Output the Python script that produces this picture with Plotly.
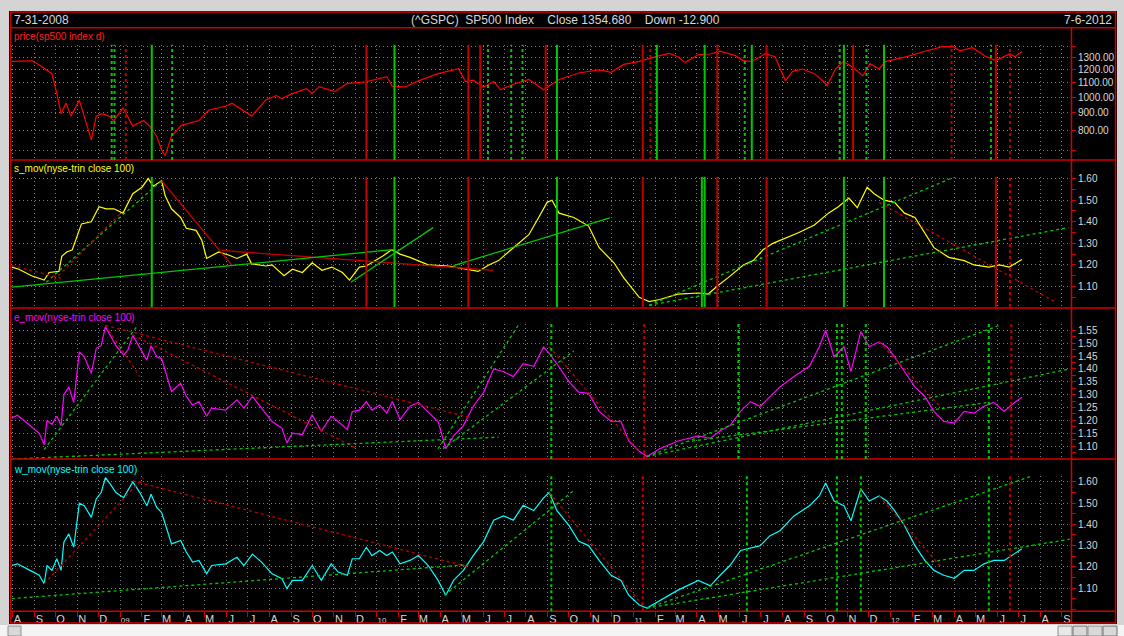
import plotly.graph_objects as go
import pandas as pd

# ---------------- data ----------------
price_dates = ["2008-07-31","2008-08-29","2008-09-12","2008-09-26","2008-10-03","2008-10-09","2008-10-16","2008-10-23",
    "2008-11-04","2008-11-14","2008-11-21","2008-11-28","2008-12-06","2008-12-16","2008-12-23","2009-01-05","2009-01-19",
    "2009-02-03","2009-02-12","2009-02-22","2009-03-01","2009-03-06","2009-03-15","2009-03-29","2009-04-23","2009-05-07",
    "2009-05-31","2009-06-09","2009-07-07","2009-07-27","2009-08-11","2009-08-19","2009-09-03","2009-09-23","2009-10-01",
    "2009-10-11","2009-11-02","2009-11-19","2009-12-17","2010-01-15","2010-01-23","2010-02-10","2010-03-01","2010-03-29",
    "2010-04-27","2010-05-07","2010-05-18","2010-06-02","2010-06-16","2010-06-26","2010-07-14","2010-08-05","2010-08-26",
    "2010-09-17","2010-10-15","2010-11-13","2010-11-30","2010-12-18","2011-01-09","2011-02-07","2011-02-21","2011-03-05",
    "2011-03-15","2011-04-03","2011-04-20","2011-05-04","2011-05-26","2011-06-05","2011-06-18","2011-07-07","2011-07-21",
    "2011-08-05","2011-08-15","2011-08-29","2011-09-15","2011-09-27","2011-10-03","2011-10-15","2011-10-26","2011-11-05",
    "2011-11-23","2011-12-03","2011-12-16","2011-12-25","2012-01-24","2012-02-17","2012-03-15","2012-03-30","2012-04-09",
    "2012-04-27","2012-05-16","2012-05-30","2012-06-10","2012-06-19","2012-06-26","2012-07-06"]
price_vals = [1270,1275,1226,1170,1024,894,961,880,
    980,840,750,880,894,880,854,930,823,
    854,823,768,701,675,768,827,854,917,
    940,960,880,980,1010,990,1023,1058,1023,
    1072,1037,1094,1108,1147,1075,1070,1115,1170,
    1210,1110,1120,1070,1110,1050,1090,1125,1050,
    1125,1175,1200,1180,1245,1270,1320,1340,1310,
    1260,1330,1335,1360,1320,1277,1268,1338,1311,
    1114,1188,1207,1170,1114,1079,1207,1268,1235,
    1154,1251,1207,1268,1311,1355,1402,1402,1364,
    1392,1311,1277,1311,1338,1311,1354.68]

s_dates = ["2008-07-31","2008-08-10","2008-08-28","2008-09-15","2008-09-22","2008-10-06","2008-10-10","2008-10-17",
    "2008-10-25","2008-10-31","2008-11-07","2008-11-21","2008-12-02","2008-12-12","2008-12-23","2009-01-05","2009-01-19",
    "2009-02-01","2009-02-10","2009-02-17","2009-02-24","2009-03-01","2009-03-06","2009-03-15","2009-03-28","2009-04-05",
    "2009-04-19","2009-04-27","2009-05-04","2009-05-21","2009-06-05","2009-06-16","2009-06-30","2009-07-07","2009-07-27",
    "2009-08-05","2009-08-22","2009-09-03","2009-09-17","2009-10-01","2009-10-15","2009-10-29","2009-11-13","2009-11-23",
    "2009-12-07","2009-12-17","2010-01-01","2010-01-09","2010-01-22","2010-02-03","2010-02-17","2010-03-15","2010-04-13",
    "2010-05-11","2010-05-25","2010-06-09","2010-06-23","2010-07-07","2010-07-21","2010-08-05","2010-08-19","2010-08-31",
    "2010-09-07","2010-09-17","2010-10-08","2010-10-29","2010-11-13","2010-12-04","2010-12-18","2011-01-09","2011-01-23",
    "2011-02-07","2011-03-05","2011-04-03","2011-04-17","2011-05-01","2011-05-15","2011-06-06","2011-06-20","2011-07-04",
    "2011-07-18","2011-08-02","2011-08-24","2011-09-15","2011-10-05","2011-10-19","2011-11-03","2011-11-15","2011-11-29",
    "2011-12-09","2011-12-23","2012-01-07","2012-01-21","2012-02-05","2012-02-19","2012-03-03","2012-03-24","2012-04-15",
    "2012-04-29","2012-05-20","2012-06-04","2012-06-18","2012-07-06"]
s_vals = [1.19,1.18,1.15,1.13,1.165,1.17,1.24,1.26,
    1.27,1.33,1.39,1.40,1.47,1.46,1.46,1.44,1.53,
    1.56,1.60,1.565,1.58,1.59,1.52,1.46,1.42,1.37,
    1.36,1.315,1.23,1.26,1.245,1.23,1.25,1.205,1.195,
    1.20,1.15,1.18,1.165,1.21,1.175,1.19,1.165,1.13,
    1.19,1.195,1.225,1.24,1.27,1.25,1.235,1.20,1.195,
    1.18,1.17,1.20,1.22,1.26,1.30,1.34,1.42,1.49,
    1.50,1.44,1.42,1.38,1.28,1.21,1.14,1.05,1.03,
    1.04,1.065,1.07,1.065,1.105,1.14,1.20,1.22,1.27,
    1.30,1.32,1.35,1.385,1.44,1.47,1.51,1.465,1.56,
    1.53,1.50,1.49,1.44,1.42,1.35,1.28,1.235,1.22,
    1.20,1.19,1.20,1.19,1.225]

ew_dates = ["2008-07-31","2008-08-08","2008-08-26","2008-09-08","2008-09-15","2008-09-19","2008-09-26","2008-10-03",
    "2008-10-09","2008-10-13","2008-10-20","2008-10-27","2008-11-04","2008-11-11","2008-11-21","2008-11-28","2008-12-05",
    "2008-12-11","2008-12-18","2008-12-26","2009-01-06","2009-01-12","2009-01-19","2009-01-29","2009-02-08","2009-02-14",
    "2009-02-22","2009-03-01","2009-03-15","2009-03-28","2009-04-05","2009-04-14","2009-04-23","2009-05-04","2009-05-11",
    "2009-05-31","2009-06-16","2009-06-26","2009-07-08","2009-07-21","2009-08-05","2009-08-19","2009-08-26","2009-09-03",
    "2009-09-17","2009-10-01","2009-10-14","2009-10-28","2009-11-07","2009-11-20","2009-11-27","2009-12-07","2009-12-17",
    "2009-12-25","2010-01-05","2010-01-15","2010-01-23","2010-02-03",
    "2010-02-17","2010-03-01","2010-03-15","2010-03-29","2010-04-09","2010-04-20","2010-05-04","2010-05-18","2010-06-02",
    "2010-06-16","2010-06-30","2010-07-14","2010-07-28","2010-08-12","2010-08-26","2010-09-03","2010-09-14","2010-10-01",
    "2010-10-15","2010-10-29","2010-11-13","2010-11-30","2010-12-14","2010-12-25","2011-01-09","2011-01-20","2011-02-07",
    "2011-03-05","2011-04-03","2011-04-20","2011-05-04","2011-05-18","2011-06-02","2011-06-16","2011-06-30","2011-07-14",
    "2011-07-28","2011-08-17","2011-09-08","2011-09-22","2011-10-01","2011-10-13","2011-10-27","2011-11-06","2011-11-20",
    "2011-12-02","2011-12-16","2011-12-27","2012-01-07","2012-01-21","2012-02-05","2012-02-19","2012-03-03","2012-03-17",
    "2012-04-01","2012-04-15","2012-04-29","2012-05-13","2012-05-27","2012-06-11","2012-06-21","2012-07-06"]
e_vals = [1.209,1.22,1.18,1.15,1.106,1.20,1.185,1.216,
    1.18,1.30,1.33,1.27,1.466,1.447,1.383,1.48,1.49,
    1.563,1.53,1.49,1.454,1.473,1.53,1.48,1.434,1.49,
    1.447,1.44,1.312,1.344,1.293,1.26,1.273,1.216,1.248,
    1.24,1.28,1.248,1.293,1.248,1.196,1.17,1.113,1.151,
    1.145,1.222,1.158,1.216,1.196,1.164,1.235,1.24,1.273,
    1.24,1.26,1.228,1.273,1.203,
    1.255,1.27,1.235,1.196,1.09,1.14,1.18,1.255,1.31,
    1.40,1.39,1.37,1.42,1.41,1.485,1.46,1.42,1.35,
    1.31,1.305,1.235,1.196,1.196,1.12,1.08,1.06,1.09,
    1.12,1.14,1.13,1.16,1.18,1.235,1.273,1.255,1.293,
    1.33,1.37,1.41,1.486,1.55,1.447,1.486,1.39,1.545,
    1.486,1.505,1.486,1.447,1.39,1.33,1.293,1.235,1.196,
    1.19,1.235,1.228,1.255,1.27,1.235,1.26,1.29]
w_vals = [1.206,1.214,1.183,1.16,1.12,1.206,1.183,1.238,
    1.183,1.316,1.355,1.292,1.50,1.488,1.433,1.52,1.55,
    1.62,1.59,1.55,1.526,1.56,1.60,1.55,1.488,1.542,
    1.48,1.456,1.308,1.324,1.27,1.222,1.23,1.167,1.206,
    1.214,1.245,1.206,1.26,1.222,1.167,1.144,1.097,1.136,
    1.136,1.206,1.136,1.214,1.175,1.16,1.238,1.238,1.292,
    1.253,1.277,1.253,1.27,1.214,
    1.23,1.253,1.206,1.136,1.066,1.136,1.183,1.253,1.32,
    1.42,1.44,1.42,1.49,1.465,1.525,1.55,1.465,1.395,
    1.32,1.30,1.23,1.16,1.136,1.066,1.02,1.005,1.04,
    1.09,1.136,1.11,1.16,1.206,1.277,1.29,1.30,1.347,
    1.37,1.44,1.488,1.534,1.595,1.51,1.488,1.417,1.567,
    1.51,1.534,1.51,1.465,1.395,1.30,1.23,1.183,1.16,
    1.146,1.183,1.183,1.214,1.23,1.23,1.253,1.285]

# trend lines: (start date, start value, end date, end value)
s_red_solid = [("2009-03-01",1.59,"2009-06-09",1.198), ("2009-05-25",1.267,"2010-06-16",1.175)]
s_green_solid = [("2008-07-31",1.097,"2010-01-27",1.272), ("2009-11-25",1.12,"2010-03-22",1.373),
                 ("2010-04-20",1.197,"2010-11-28",1.418)]
s_green_dash = [("2008-09-18",1.12,"2009-03-01",1.59), ("2011-01-23",1.013,"2012-04-08",1.617),
                ("2011-01-23",1.013,"2012-09-10",1.373)]
s_red_dash = [("2008-07-31",1.198,"2008-10-10",1.138), ("2008-09-29",1.13,"2009-01-05",1.45),
              ("2011-12-16",1.49,"2012-08-23",1.027)]
e_red_dash = [("2008-12-11",1.569,"2010-05-11",1.213), ("2008-12-11",1.569,"2009-01-29",1.37),
              ("2009-01-19",1.532,"2009-12-02",1.093), ("2010-09-03",1.486,"2011-01-09",1.08),
              ("2011-12-16",1.505,"2012-03-13",1.25)]
e_green_dash = [("2008-09-15",1.087,"2009-01-26",1.569), ("2008-07-31",1.05,"2010-06-23",1.135),
                ("2010-03-29",1.09,"2010-07-21",1.569), ("2010-04-05",1.09,"2010-10-08",1.47),
                ("2011-01-20",1.06,"2012-06-04",1.569), ("2011-01-20",1.06,"2012-09-12",1.40),
                ("2011-03-25",1.12,"2012-05-20",1.27)]
w_red_dash = [("2008-09-15",1.12,"2009-02-03",1.62), ("2009-01-19",1.605,"2010-05-11",1.20),
              ("2010-09-03",1.55,"2011-01-16",1.01), ("2011-12-16",1.534,"2012-03-13",1.20)]
w_green_dash = [("2008-07-31",1.05,"2010-05-11",1.21), ("2010-04-07",1.066,"2010-10-08",1.56),
                ("2011-01-20",1.005,"2012-07-22",1.63), ("2011-01-20",1.005,"2012-09-12",1.33)]

# vertical signal markers (dates)
p_green_solid = ["2009-02-15","2010-01-26","2010-09-14","2011-02-03","2011-04-12","2011-06-18","2011-10-27","2011-12-23"]
p_green_dash = ["2008-12-20","2008-12-24","2009-03-16","2010-06-08","2010-07-11","2010-07-27","2011-06-08",
                "2011-10-21","2011-11-28","2012-05-23"]
p_red_solid = ["2009-12-17","2010-05-11","2010-05-28","2010-08-29","2011-01-14","2011-04-30","2011-07-09",
               "2011-11-09","2012-05-30"]
p_red_dash = ["2009-01-09","2011-01-25","2012-03-28","2012-06-19"]
s_sig_green = ["2009-02-15","2010-01-26","2010-09-14","2011-04-08","2011-04-12","2011-10-27","2011-12-23"]
s_sig_red = ["2009-12-17","2010-05-11","2011-01-14","2011-04-30","2011-07-09","2012-05-30"]
s_sig_red_dash = ["2012-06-19"]
e_sig_green_dash = ["2010-09-06","2011-05-30","2011-10-17","2011-10-24","2011-11-27","2012-05-20"]
e_sig_red_dash = ["2011-01-16","2012-06-21"]
w_sig_green_dash = ["2010-09-06","2011-06-11","2011-10-17","2011-11-20","2012-05-20"]
w_sig_red_dash = ["2011-01-14","2012-06-19"]

month_letters = ["A","S","O","N","D","09","F","M","A","M","J","J","A","S","O","N","D","10","F","M","A","M","J","J",
                 "A","S","O","N","D","11","F","M","A","M","J","J","A","S","O","N","D","12","F","M","A","M","J","J",
                 "A","S"]
price_ticks = [700, 800, 900, 1000, 1100, 1200, 1300, 1400]
price_ticktext = ["", "800.00", "900.00", "1000.00", "1100.00", "1200.00", "1300.00", ""]

# ---------------- layout helpers ----------------
W, H = 1124, 636
def fx(p): return p / W
def fy(p): return 1 - p / H

RED = "#d00000"
DRED = "#c00000"
GRN = "#00c800"
GRID = "#7a7a7a"
TXT = "#d8d8d8"
FONT = "Liberation Sans, Arial, sans-serif"

month_starts = pd.date_range("2008-08-01", "2012-09-01", freq="MS")
ticktext = [("<span style='font-size:8px'>%s</span>" % t) if t.isdigit() else t for t in month_letters]

fig = go.Figure()

def add_line(x, y, color, width, ax, dash="solid"):
    fig.add_trace(go.Scatter(x=x, y=y, mode="lines", line=dict(color=color, width=width, dash=dash),
                             xaxis=ax[0], yaxis=ax[1], hoverinfo="skip", showlegend=False))

def add_trend(segs, color, dash, ax, width=1.3):
    xs, ys = [], []
    for a, va, b, vb in segs:
        xs += [a, b, None]
        ys += [va, vb, None]
    add_line(xs, ys, color, width, ax, dash)

A1, A2, A3, A4 = ("x2", "y"), ("x3", "y2"), ("x4", "y3"), ("x", "y4")

add_line(price_dates, price_vals, "#ff0000", 1.2, A1)
add_line(s_dates, s_vals, "#ffff00", 1.2, A2)
add_line(ew_dates, e_vals, "#ff00ff", 1.2, A3)
add_line(ew_dates, w_vals, "#00ffff", 1.2, A4)

DOT = "3px,3px"
add_trend(s_red_solid, DRED, "solid", A2)
add_trend(s_green_solid, GRN, "solid", A2)
add_trend(s_green_dash, GRN, DOT, A2)
add_trend(s_red_dash, DRED, DOT, A2)
add_trend(e_red_dash, DRED, DOT, A3)
add_trend(e_green_dash, GRN, DOT, A3)
add_trend(w_red_dash, DRED, DOT, A4)
add_trend(w_green_dash, GRN, DOT, A4)

shapes = []
def vlines(dates, color, dash, yname, width):
    for d in dates:
        shapes.append(dict(type="line", xref="x", yref=yname + " domain", x0=d, x1=d, y0=0, y1=1,
                           line=dict(color=color, width=width, dash=dash), layer="above"))

vlines(p_green_solid, GRN, "solid", "y", 2)
vlines(p_green_dash, GRN, DOT, "y", 2)
vlines(p_red_solid, DRED, "solid", "y", 2)
vlines(p_red_dash, DRED, DOT, "y", 2)
vlines(s_sig_green, GRN, "solid", "y2", 2)
vlines(s_sig_red, DRED, "solid", "y2", 2)
vlines(s_sig_red_dash, DRED, DOT, "y2", 2)
vlines(e_sig_green_dash, GRN, DOT, "y3", 2)
vlines(e_sig_red_dash, DRED, DOT, "y3", 2)
vlines(w_sig_green_dash, GRN, DOT, "y4", 2)
vlines(w_sig_red_dash, DRED, DOT, "y4", 2)

# frame: window gray, black chart body, red rules
bg = [
    dict(type="rect", xref="paper", yref="paper", x0=fx(9), x1=fx(1117), y0=fy(624), y1=fy(7),
         fillcolor="#000000", line=dict(width=0), layer="below"),
    dict(type="rect", xref="paper", yref="paper", x0=0, x1=1, y0=0, y1=fy(625),
         fillcolor="#f4f4f4", line=dict(width=0), layer="below"),
    dict(type="rect", xref="paper", yref="paper", x0=fx(8), x1=fx(21), y0=0, y1=fy(626),
         fillcolor="#d8d8d8", line=dict(color="#909090", width=1), layer="below"),
    dict(type="rect", xref="paper", yref="paper", x0=fx(1058), x1=fx(1072), y0=0, y1=fy(626),
         fillcolor="#e8e8e8", line=dict(color="#909090", width=1), layer="below"),
    dict(type="rect", xref="paper", yref="paper", x0=fx(1073), x1=fx(1087), y0=0, y1=fy(626),
         fillcolor="#d8d8d8", line=dict(color="#707070", width=1), layer="below"),
    dict(type="rect", xref="paper", yref="paper", x0=fx(1088), x1=fx(1102), y0=0, y1=fy(626),
         fillcolor="#d8d8d8", line=dict(color="#909090", width=1), layer="below"),
    dict(type="rect", xref="paper", yref="paper", x0=fx(1103), x1=fx(1117), y0=0, y1=fy(626),
         fillcolor="#d8d8d8", line=dict(color="#707070", width=1), layer="below"),
]
for yy in [8, 24, 157, 306, 458, 611, 623]:
    bg.append(dict(type="line", xref="paper", yref="paper", x0=fx(10), x1=fx(1116), y0=fy(yy), y1=fy(yy),
                   line=dict(color=RED, width=1.5), layer="above"))
for xx, ya, yb in [(10.5, 8, 623), (1115.5, 8, 623), (1071.5, 24, 623)]:
    bg.append(dict(type="line", xref="paper", yref="paper", x0=fx(xx), x1=fx(xx), y0=fy(ya), y1=fy(yb),
                   line=dict(color=RED, width=1.5), layer="above"))

ann = [
    dict(text="7-31-2008", x=fx(12), y=fy(16), xanchor="left", font=dict(size=12, color=TXT)),
    dict(text="(^GSPC)  SP500 Index    Close 1354.680    Down -12.900", x=fx(565), y=fy(16), xanchor="center",
         font=dict(size=12, color=TXT)),
    dict(text="7-6-2012", x=fx(1114), y=fy(16), xanchor="right", font=dict(size=12, color=TXT)),
    dict(text="price(sp500 index d)", x=fx(12), y=fy(33), xanchor="left", font=dict(size=10, color="#ff2020")),
    dict(text="s_mov(nyse-trin close 100)", x=fx(12), y=fy(166), xanchor="left", font=dict(size=10, color="#ffff00")),
    dict(text="e_mov(nyse-trin close 100)", x=fx(12), y=fy(315), xanchor="left", font=dict(size=10, color="#ff00ff")),
    dict(text="w_mov(nyse-trin close 100)", x=fx(12), y=fy(468), xanchor="left", font=dict(size=10, color="#00ffff")),
]
for a in ann:
    a.update(xref="paper", yref="paper", yanchor="middle", showarrow=False)

xr = ["2008-07-29 20:00", "2012-09-13 20:00"]
xdom = [fx(11), fx(1071)]
grid = dict(showgrid=True, gridcolor=GRID, griddash="1px,3px", gridwidth=1)
xcommon = dict(type="date", range=xr, domain=xdom, tickvals=list(month_starts), zeroline=False, **grid)

def ycommon(p_top, p_bot):
    return dict(domain=[fy(p_bot), fy(p_top)], side="right", anchor="x", ticks="outside", ticklen=4,
                tickcolor=RED, tickfont=dict(size=10, color=TXT, family=FONT), showline=False, zeroline=False,
                **grid)

fig.update_layout(
    width=W, height=H, margin=dict(l=0, r=0, t=0, b=0),
    paper_bgcolor="#d4d4d4", plot_bgcolor="rgba(0,0,0,0)",
    font=dict(family=FONT, color=TXT), showlegend=False, hovermode=False,
    shapes=bg + shapes, annotations=ann,
    xaxis=dict(anchor="y4", ticktext=ticktext, ticks="", ticklen=0, ticklabelshift=5, ticklabelstandoff=0,
               tickfont=dict(size=11, color=TXT, family=FONT),
               minor=dict(tickvals=list(month_starts), ticks="outside", ticklen=5, tickcolor=RED, showgrid=False),
               **xcommon),
    xaxis2=dict(anchor="y", matches="x", showticklabels=False, **xcommon),
    xaxis3=dict(anchor="y2", matches="x", showticklabels=False, **xcommon),
    xaxis4=dict(anchor="y3", matches="x", showticklabels=False, **xcommon),
    yaxis=dict(type="log", range=[2.8166, 3.1524], tickvals=price_ticks, ticktext=price_ticktext,
               **ycommon(41, 157)),
    yaxis2=dict(range=[1.0047, 1.6078], tickvals=[1.1, 1.2, 1.3, 1.4, 1.5, 1.6], tickformat=".2f",
                minor=dict(dtick=0.05, tick0=1.0, ticks="outside", ticklen=4, tickcolor=RED, showgrid=False),
                **ycommon(174, 305)),
    yaxis3=dict(range=[1.0498, 1.5743], tickvals=[1.10, 1.15, 1.20, 1.25, 1.30, 1.35, 1.40, 1.45, 1.50, 1.55],
                tickformat=".2f",
                minor=dict(dtick=0.025, tick0=1.0, ticks="outside", ticklen=4, tickcolor=RED, showgrid=False),
                **ycommon(322, 458)),
    yaxis4=dict(range=[0.9908, 1.6281], tickvals=[1.1, 1.2, 1.3, 1.4, 1.5, 1.6], tickformat=".2f",
                minor=dict(dtick=0.05, tick0=1.0, ticks="outside", ticklen=4, tickcolor=RED, showgrid=False),
                **ycommon(475, 611)),
)

fig.write_html("out.html", config={"displayModeBar": False},
               post_script="document.body.style.margin='0';document.body.style.background='#d4d4d4';")
